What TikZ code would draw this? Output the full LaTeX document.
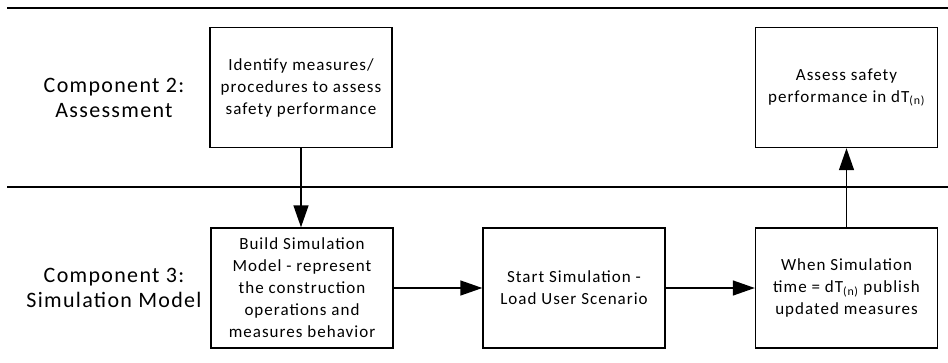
\documentclass[tikz,border=0pt]{standalone}
\usepackage{fontspec}
\setmainfont[LetterSpace=6]{Carlito}
\usetikzlibrary{arrows.meta}
\begin{document}
\begin{tikzpicture}[x=1pt,y=-1pt,
box/.style={%
draw,
line width=1.4pt,
minimum width=182pt,
minimum height=120pt,
align=center,
inner sep=2pt,
font={\fontsize{17pt}{22pt}\selectfont},
},
comp/.style={%
align=center,
font={\fontsize{22pt}{25pt}\selectfont},
},
sep/.style={%
line width=1.5pt,
},
flow/.style={%
line width=1.4pt,
-{Triangle[length=22pt,width=15pt]},
}
]
\useasboundingbox (0,0) rectangle (948,362);

%Bands
\coordinate (t1) at (7,8);
\coordinate (t2) at (948,8);
\coordinate (m1) at (7,187);
\coordinate (m2) at (948,187);
\draw[sep] (t1) -- (t2);
\draw[sep] (m1) -- (m2);

%Component 2
\node[comp] (c2) at (114,98) {Component 2:\\Assessment};
\node[box] (ident) at (301,87.5) {Identify measures/\\procedures to assess\\safety performance};
\node[box] (assess) at (846.5,87.5) {Assess safety\\performance in dT\textsubscript{(n)}};

%Component 3
\node[comp] (c3) at (114,287.5) {Component 3:\\Simulation Model};
\node[box] (build) at (302,288) {Build Simulation\\Model - represent\\the construction\\operations and\\measures behavior};
\node[box] (start) at (574,288) {Start Simulation -\\Load User Scenario};
\node[box] (publish) at (846.5,288) {When Simulation\\time = dT\textsubscript{(n)} publish\\updated measures};

%Flow
\draw[flow] (ident.south) -- (ident.south |- build.north);
\draw[flow] (build) -- (start);
\draw[flow] (start) -- (publish);
\draw[flow] (publish.north) -- (assess.south);
\end{tikzpicture}
\end{document}
